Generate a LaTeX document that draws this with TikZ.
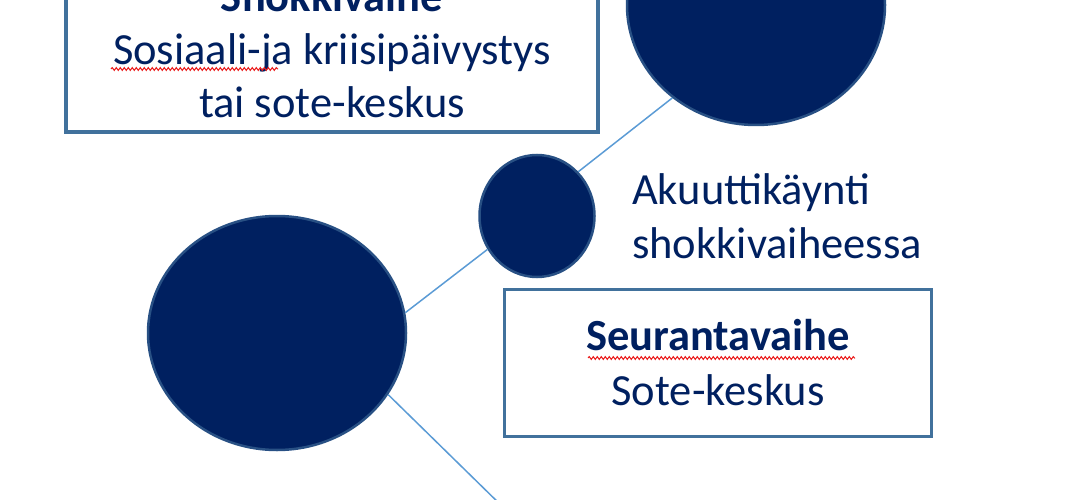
\documentclass[tikz,border=0pt]{standalone}
\usepackage{fontspec}
\setmainfont{Carlito}
\usetikzlibrary{shapes.geometric,decorations.pathmorphing}
\definecolor{navy}{RGB}{0,32,96}
\definecolor{boxline}{RGB}{65,113,156}
\definecolor{linkline}{RGB}{91,155,213}
\definecolor{ballrim}{RGB}{40,80,132}
\definecolor{squiggle}{RGB}{235,30,30}

\begin{document}
\begin{tikzpicture}[x=1pt,y=-1pt,
    phase/.style={draw=boxline,line width=3.5pt,fill=white,text=navy,align=center,inner sep=0pt,font=\fontsize{44.5}{53}\selectfont},
    ball/.style={ellipse,fill=navy,draw=ballrim,line width=2.5pt,inner sep=0pt},
    link/.style={draw=linkline,line width=1.5pt},
    spell/.style={draw=squiggle,line width=1pt,decorate,decoration={snake,amplitude=1.4pt,segment length=4pt}}]

    \clip (0,0) rectangle (1090,500);

    \node [ball,minimum width=258pt,minimum height=240pt] (shock) at (756,5) {};
    \node [ball,minimum width=115pt,minimum height=122pt] (acute) at (537,216) {};
    \node [ball,minimum width=258pt,minimum height=234pt] (follow) at (277,333) {};
    \coordinate (onward) at (508,512);

    \draw [link] (follow.9) -- (acute.214);
    \draw [link] (acute.47) -- (shock.228);
    \draw [link] (follow.-29) -- (onward);

    \node [phase,minimum width=532pt,minimum height=166pt] (shockbox) at (332,49) {\textbf{Shokkivaihe}\\Sosiaali-ja kriisipäivystys\\tai sote-keskus};
    \node [phase,minimum width=427pt,minimum height=147pt,font=\fontsize{44.5}{55}\selectfont] (followbox) at (718,363) {\textbf{Seurantavaihe}\\Sote-keskus};
    \node [text=navy,align=left,anchor=west,inner sep=0pt,font=\fontsize{44.5}{54}\selectfont] (acutetext) at (632,216) {Akuuttikäynti\\shokkivaiheessa};

    \draw [spell] (111,69) -- (278,69);
    \draw [spell] (588,358) -- (855,358);
\end{tikzpicture}
\end{document}
